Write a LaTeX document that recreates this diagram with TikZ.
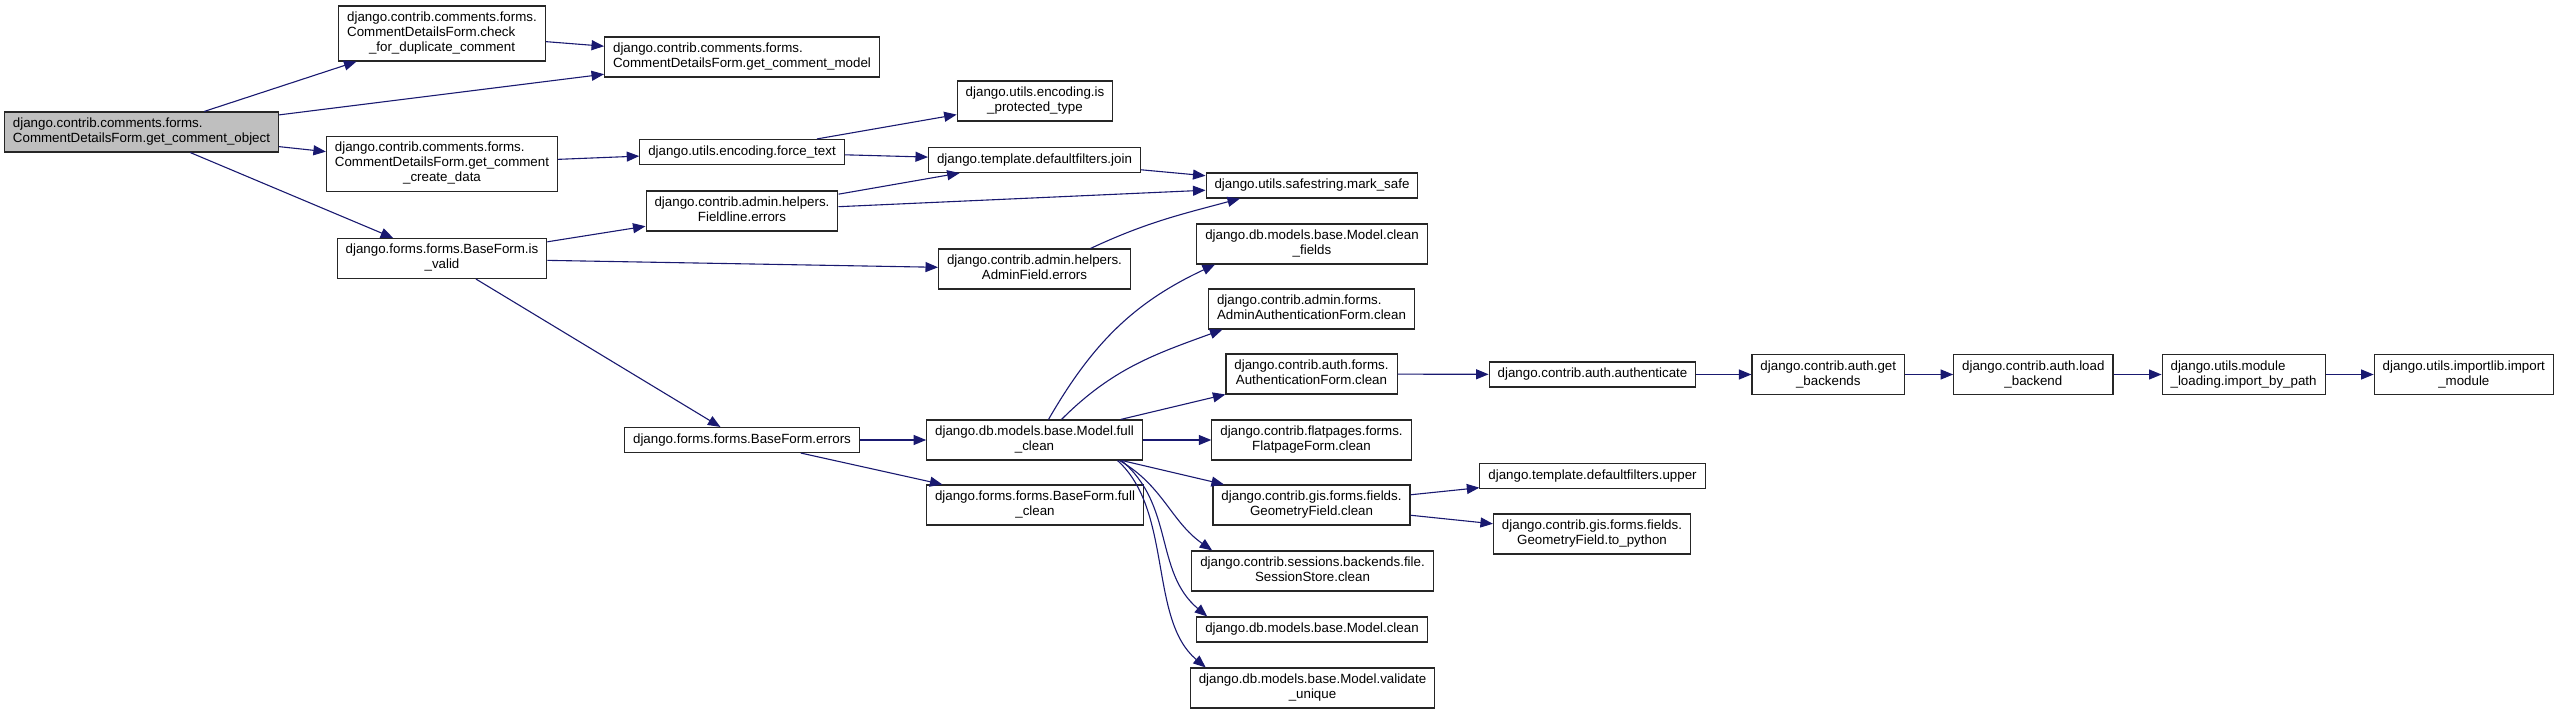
\documentclass[tikz,border=0pt]{standalone}
\usepackage{fontspec}
\setmainfont{Liberation Sans}
\usepackage{tikz}
\usepackage{xcolor}
\usetikzlibrary{arrows.meta,positioning}
\definecolor{edgeblue}{RGB}{25,25,112}
\definecolor{focusgray}{RGB}{191,191,191}
% all lines but the last left, last line centred
\newcommand{\fnl}[2]{\begin{tabular}{@{}l@{}}#1\\\multicolumn{1}{@{}c@{}}{#2}\end{tabular}}

\begin{document}
\begin{tikzpicture}[
  x=1pt, y=-1pt,
  every node/.style={font=\fontsize{13.33}{15}\selectfont},
  fn/.style={draw=black!85, line width=1.1pt, fill=white, inner xsep=8.5pt,
             inner ysep=3pt, minimum height=40pt},
  short/.style={minimum height=25pt},
  tall/.style={minimum height=55pt},
  focus/.style={fn, fill=focusgray},
  call/.style={draw=edgeblue, line width=1.1pt, -{Triangle[length=12.5pt,width=10pt]}},
]
\useasboundingbox (0,0) rectangle (2560,714);

% Caller
\node[focus] (obj) at (141.5,132)
  {\fnl{django.contrib.comments.forms.}{CommentDetailsForm.get\_comment\_object}};

% First level
\node[fn, tall] (dup) at (442,33.5)
  {\fnl{django.contrib.comments.forms.\\CommentDetailsForm.check}{\_for\_duplicate\_comment}};
\node[fn, tall] (cdata) at (442,164)
  {\fnl{django.contrib.comments.forms.\\CommentDetailsForm.get\_comment}{\_create\_data}};
\node[fn] (valid) at (442,258.5) {\fnl{django.forms.forms.BaseForm.is}{\_valid}};

% Second level
\node[fn] (model) at (742,57)
  {\fnl{django.contrib.comments.forms.}{CommentDetailsForm.get\_comment\_model}};
\node[fn, short] (ftext) at (742,152) {django.utils.encoding.force\_text};
\node[fn] (fline) at (742,211) {\fnl{django.contrib.admin.helpers.}{Fieldline.errors}};
\node[fn, short] (ferr) at (742,440) {django.forms.forms.BaseForm.errors};

% Third level
\node[fn] (prot) at (1035,101) {\fnl{django.utils.encoding.is}{\_protected\_type}};
\node[fn, short] (join) at (1034.5,160) {django.template.defaultfilters.join};
\node[fn] (aferr) at (1034.5,269) {\fnl{django.contrib.admin.helpers.}{AdminField.errors}};
\node[fn] (fclean) at (1034.5,440) {\fnl{django.db.models.base.Model.full}{\_clean}};
\node[fn] (ffclean) at (1035,505) {\fnl{django.forms.forms.BaseForm.full}{\_clean}};

% Fourth level
\node[fn, short] (safe) at (1312,185.5) {django.utils.safestring.mark\_safe};
\node[fn] (cfields) at (1312,244) {\fnl{django.db.models.base.Model.clean}{\_fields}};
\node[fn] (aauth) at (1311.5,309) {\fnl{django.contrib.admin.forms.}{AdminAuthenticationForm.clean}};
\node[fn] (authf) at (1311.5,374) {\fnl{django.contrib.auth.forms.}{AuthenticationForm.clean}};
\node[fn] (flat) at (1311.5,440) {\fnl{django.contrib.flatpages.forms.}{FlatpageForm.clean}};
\node[fn] (geom) at (1311.5,505) {\fnl{django.contrib.gis.forms.fields.}{GeometryField.clean}};
\node[fn] (sess) at (1312.5,571) {\fnl{django.contrib.sessions.backends.file.}{SessionStore.clean}};
\node[fn, short] (mclean) at (1312,629.5) {django.db.models.base.Model.clean};
\node[fn] (vuniq) at (1312.5,688) {\fnl{django.db.models.base.Model.validate}{\_unique}};

% Backend chain
\node[fn, short] (authn) at (1592.5,374.5) {django.contrib.auth.authenticate};
\node[fn, right=55pt of authn] (getb) {\fnl{django.contrib.auth.get}{\_backends}};
\node[fn, right=48pt of getb] (loadb) {\fnl{django.contrib.auth.load}{\_backend}};
\node[fn, right=48pt of loadb] (ipath) {\fnl{django.utils.module}{\_loading.import\_by\_path}};
\node[fn, right=48pt of ipath] (imod) {\fnl{django.utils.importlib.import}{\_module}};

% Geometry callees
\node[fn, short] (upper) at (1592.5,476) {django.template.defaultfilters.upper};
\node[fn] (topy) at (1592,534) {\fnl{django.contrib.gis.forms.fields.}{GeometryField.to\_python}};

% Arrows
\draw[call] (obj) -- (dup);
\draw[call] (obj) -- (model);
\draw[call] (dup) -- (model);
\draw[call] (obj) -- (cdata);
\draw[call] (obj) -- (valid);
\draw[call] (cdata) -- (ftext);
\draw[call] (ftext) -- (prot);
\draw[call] (ftext) -- (join);
\draw[call] (join) -- (safe);
\draw[call] (fline) -- (join);
\draw[call] (fline) -- (safe);
\draw[call] ([xshift=56pt]aferr.north) to[out=25, in=195] ([xshift=-72pt]safe.south);
\draw[call] (valid) -- (fline);
\draw[call] (valid) -- (aferr);
\draw[call] (valid) -- (ferr);
\draw[call] (ferr) -- (fclean);
\draw[call] (ferr) -- (ffclean);
\draw[call] ([xshift=14pt]fclean.north) to[out=60, in=205] ([xshift=-97pt]cfields.south);
\draw[call] ([xshift=27pt]fclean.north) to[out=45, in=200] ([xshift=-89pt]aauth.south);
\draw[call] (fclean) -- (authf);
\draw[call] (fclean) -- (flat);
\draw[call] (fclean) -- (geom);
\draw[call] ([xshift=85pt]fclean.south) to[out=-30, in=145] ([xshift=21pt]sess.north west);
\draw[call] ([xshift=87pt]fclean.south) to[out=-40, in=140] ([xshift=11pt]mclean.north west);
\draw[call] ([xshift=83pt]fclean.south) to[out=-42, in=140, looseness=0.85] ([xshift=16pt]vuniq.north west);
\draw[call] (authf) -- (authn);
\draw[call] (authn) -- (getb);
\draw[call] (getb) -- (loadb);
\draw[call] (loadb) -- (ipath);
\draw[call] (ipath) -- (imod);
\draw[call] (geom) -- (upper);
\draw[call] (geom) -- (topy);
\end{tikzpicture}
\end{document}
